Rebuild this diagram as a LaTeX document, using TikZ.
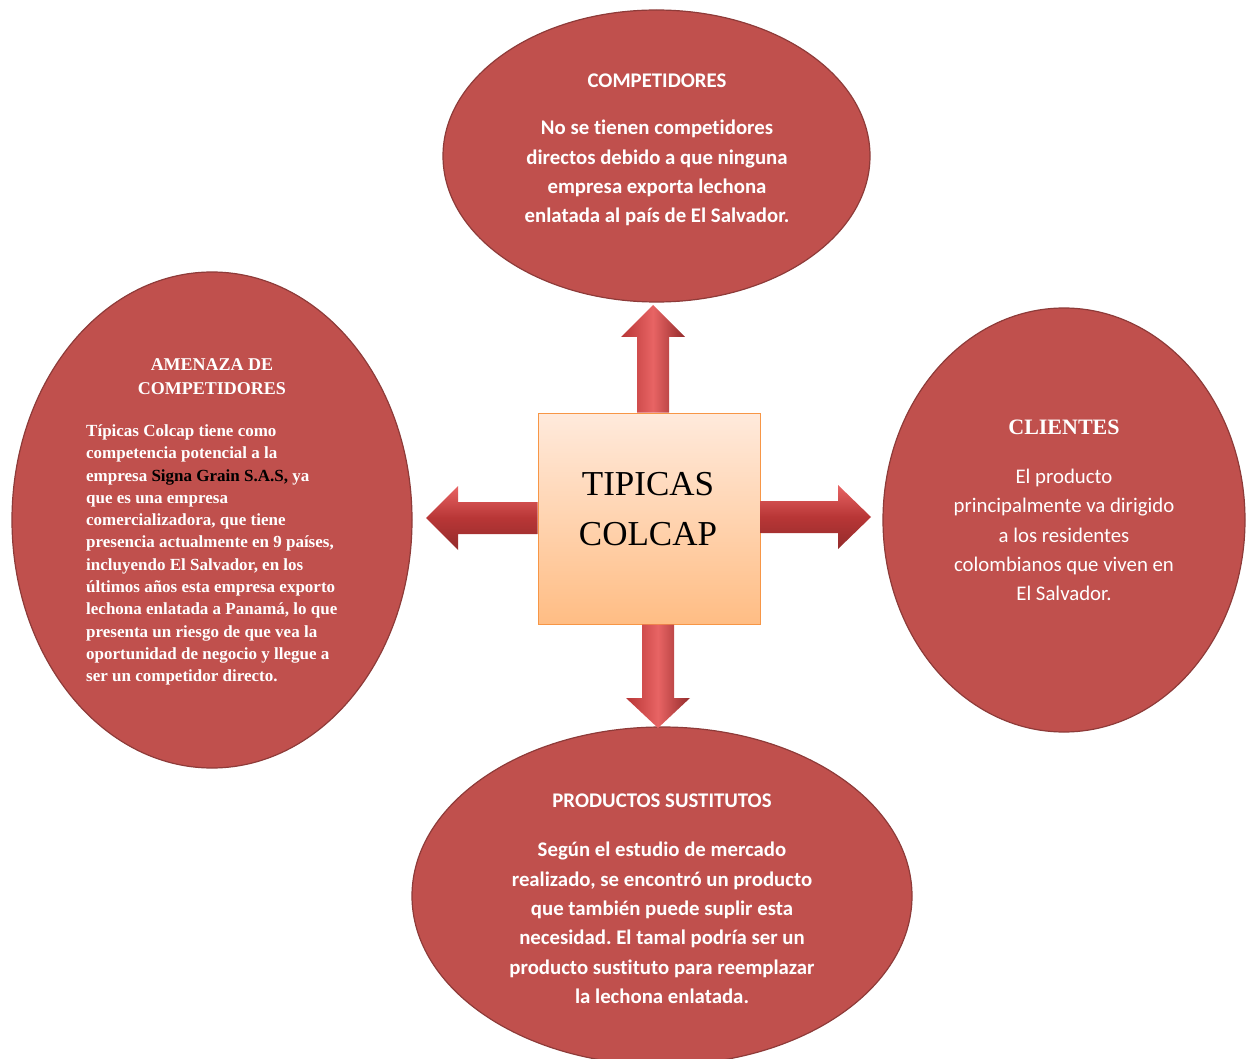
\documentclass[tikz,border=0pt]{standalone}
\usepackage{fontspec}
\setmainfont{Liberation Serif}
\newfontfamily\calib[Ligatures=NoCommon]{Carlito}
\usetikzlibrary{shapes,arrows,calc}
\frenchspacing
\definecolor{ovalred}{HTML}{C0504D}
\definecolor{ovalline}{HTML}{8E3B39}
\definecolor{arrowdark}{HTML}{B83636}
\definecolor{arrowlight}{HTML}{E86464}
\definecolor{boxtop}{HTML}{FFEADC}
\definecolor{boxbot}{HTML}{FFBD84}
\definecolor{boxline}{HTML}{F79646}
\tikzset{
	oval/.style     = {draw=ovalline, fill=ovalred, ellipse, line width=1.2pt, inner sep=0pt},
	ovalhead/.style = {text=white, align=center, inner sep=0pt,
		font=\calib\bfseries\fontsize{20.8}{29.3}\selectfont},
	ovalbody/.style = {text=white, align=center, inner sep=0pt,
		font=\calib\bfseries\fontsize{20.8}{29.3}\selectfont},
	serifhead/.style = {text=white, align=center, inner sep=0pt,
		font=\bfseries\fontsize{18}{24}\selectfont},
	serifbody/.style = {text=white, align=left, inner sep=0pt,
		font=\bfseries\fontsize{17}{22.3}\selectfont},
	centre/.style   = {draw=boxline, line width=1pt, top color=boxtop, bottom color=boxbot,
		minimum width=222pt, minimum height=211pt},
	vshaft/.style   = {left color=arrowdark, right color=arrowdark!80!black, middle color=arrowlight},
	hshaft/.style   = {top color=arrowlight, bottom color=arrowdark!80!black, middle color=arrowdark}
}

\begin{document}
\begin{tikzpicture}[x=1pt, y=-1pt]
	\useasboundingbox (0,0) rectangle (1248,1059);
	% the four ovals
	\draw
	node at (656.5,156)[oval, minimum width=427pt, minimum height=292pt] (comp){}
	node at (212,520)[oval, minimum width=400pt, minimum height=496pt] (amen){}
	node at (1064,520)[oval, minimum width=362pt, minimum height=424pt] (clie){}
	node at (662,896)[oval, minimum width=500pt, minimum height=338pt] (prod){}
	;
	
	% centre box
	\node at (649,518.5)[centre] (box) {};
	\node at (648,509)[font=\fontsize{35}{50}\selectfont, align=center] (boxText) {TIPICAS\\COLCAP};
	
	% block arrows from the box
	\coordinate (tipN) at (653,305);
	\coordinate (tipS) at (658,728);
	\coordinate (tipW) at (426,518);
	\coordinate (tipE) at (871,517);
	\shade[vshaft] ($(tipN|-box.north)+(-16,0)$) -- ($(tipN)+(-16,32)$) -- ($(tipN)+(-32,32)$)
		-- (tipN) -- ($(tipN)+(32,32)$) -- ($(tipN)+(16,32)$) -- ($(tipN|-box.north)+(16,0)$) -- cycle;
	\shade[vshaft] ($(tipS|-box.south)+(-16,0)$) -- ($(tipS)+(-16,-30)$) -- ($(tipS)+(-32,-30)$)
		-- (tipS) -- ($(tipS)+(32,-30)$) -- ($(tipS)+(16,-30)$) -- ($(tipS|-box.south)+(16,0)$) -- cycle;
	\shade[hshaft] ($(tipW-|box.west)+(0,-16)$) -- ($(tipW)+(32,-16)$) -- ($(tipW)+(32,-32)$)
		-- (tipW) -- ($(tipW)+(32,32)$) -- ($(tipW)+(32,16)$) -- ($(tipW-|box.west)+(0,16)$) -- cycle;
	\shade[hshaft] ($(tipE-|box.east)+(0,-16)$) -- ($(tipE)+(-33,-16)$) -- ($(tipE)+(-33,-32)$)
		-- (tipE) -- ($(tipE)+(-33,32)$) -- ($(tipE)+(-33,16)$) -- ($(tipE-|box.east)+(0,16)$) -- cycle;
	
	% texts
	\node at (657,81)[ovalhead] (compHead) {COMPETIDORES};
	\node at (657,173)[ovalbody] (compBody) {No se tienen competidores\\directos debido a que ninguna\\
		empresa exporta lechona\\enlatada al país de El Salvador.};
	
	\node at (212,377)[serifhead] (amenHead) {AMENAZA DE\\COMPETIDORES};
	\node at (86,555)[serifbody, anchor=west] (amenBody) {Típicas Colcap tiene como\\
		competencia potencial a la\\empresa \textcolor{black}{Signa Grain S.A.S,} ya\\
		que es una empresa\\comercializadora, que tiene\\presencia actualmente en 9 países,\\
		incluyendo El Salvador, en los\\últimos años esta empresa exporto\\
		lechona enlatada a Panamá, lo que\\presenta un riesgo de que vea la\\
		oportunidad de negocio y llegue a\\ser un competidor directo.};
	
	\node at (1064,427)[serifhead, font=\bfseries\fontsize{22}{26}\selectfont] (clieHead) {CLIENTES};
	\node at (1064,535)[ovalbody, font=\calib\fontsize{20.8}{29.3}\selectfont] (clieBody) {El producto\\
		principalmente va dirigido\\a los residentes\\colombianos que viven en\\El Salvador.};
	
	\node at (662,801)[ovalhead] (prodHead) {PRODUCTOS SUSTITUTOS};
	\node at (662,923)[ovalbody] (prodBody) {Según el estudio de mercado\\
		realizado, se encontró un producto\\que también puede suplir esta\\
		necesidad. El tamal podría ser un\\producto sustituto para reemplazar\\la lechona enlatada.};
\end{tikzpicture}
\end{document}
